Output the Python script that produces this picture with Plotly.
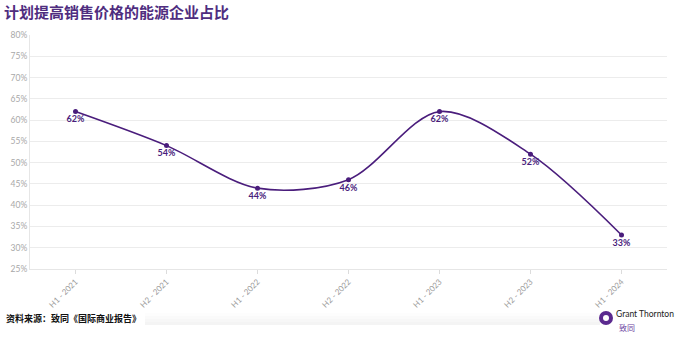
import plotly.graph_objects as go

categories = ["H1 - 2021", "H2 - 2021", "H1 - 2022", "H2 - 2022", "H1 - 2023", "H2 - 2023", "H1 - 2024"]
values = [62, 54, 44, 46, 62, 52, 33]
labels = [f"{v}%" for v in values]
tick_vals = list(range(25, 81, 5))
tick_text = [f"{v}%" for v in tick_vals]

PURPLE = "#4a1d7c"
W, H = 680, 337

fig = go.Figure()
fig.add_trace(go.Scatter(
    x=categories, y=values,
    mode="lines+markers+text",
    line=dict(color=PURPLE, width=1.6, shape="spline", smoothing=0.9),
    marker=dict(color=PURPLE, size=5),
    text=labels, textposition="bottom center",
    textfont=dict(family="Lato, Noto Sans", size=9, color=PURPLE, weight="bold"),
    cliponaxis=False, hoverinfo="skip",
))

fig.update_layout(
    width=W, height=H,
    margin=dict(l=30, r=13, t=35, b=68),
    paper_bgcolor="white", plot_bgcolor="white",
    showlegend=False,
    font=dict(family="Noto Sans CJK SC, Noto Sans", color="#333"),
    title=dict(text="<b>计划提高销售价格的能源企业占比</b>", x=0.006, xanchor="left",
               y=1 - 13 / H, yanchor="middle",
               font=dict(family="Noto Sans CJK SC", size=15, color="#4f2d7f")),
    xaxis=dict(
        type="category", range=[-0.5, 6.5],
        showgrid=False, showline=True, linecolor="#e6e6e6", linewidth=1,
        ticks="outside", ticklen=4, tickcolor="#dcdcdc",
        tickangle=-45, tickfont=dict(family="Lato, Noto Sans", size=8, color="#9a9a9a"),
        fixedrange=True,
    ),
    yaxis=dict(
        range=[25, 80], tickvals=tick_vals, ticktext=tick_text,
        showgrid=True, gridcolor="#ececec", gridwidth=1,
        showline=True, linecolor="#e6e6e6", linewidth=1,
        zeroline=False,
        tickfont=dict(family="Lato, Noto Sans", size=8.5, color="#a8a8a8"),
        ticks="", fixedrange=True,
    ),
)

# faint footer band
for i, c in enumerate(["#fdfdfd", "#fafafa", "#f7f7f7", "#f4f4f4"]):
    fig.add_shape(type="rect", xref="paper", yref="paper",
                  x0=(145 - 30) / 637, x1=(600 - 30) / 637,
                  y0=-(313 + i * 3 - 35) / 234 + 1, y1=-(316 + i * 3 - 35) / 234 + 1,
                  line=dict(width=0), fillcolor=c, layer="below")

# source note
fig.add_annotation(text="<b>资料来源：致同《国际商业报告》</b>", xref="paper", yref="paper",
                   x=-(30 - 4) / 637, y=1 - (318 - 35) / 234, xanchor="left", yanchor="middle",
                   showarrow=False, font=dict(family="Noto Sans CJK SC", size=9, color="#111"))

# logo
cx, cy = 606, 318
def px(x):
    return (x - 30) / 637
def py(y):
    return 1 - (y - 35) / 234
fig.add_shape(type="circle", xref="paper", yref="paper",
              x0=px(cx - 7), x1=px(cx + 7), y0=py(cy + 7), y1=py(cy - 7),
              fillcolor="#5b2a8f", line=dict(width=0))
fig.add_shape(type="circle", xref="paper", yref="paper",
              x0=px(cx - 3), x1=px(cx + 3), y0=py(cy + 3), y1=py(cy - 3),
              fillcolor="white", line=dict(width=0))
fig.add_annotation(text="Grant Thornton", xref="paper", yref="paper",
                   x=px(615), y=py(314), xanchor="left", yanchor="middle", showarrow=False,
                   borderpad=0,
                   font=dict(family="Lato, Noto Sans", size=8.5, color="#222"))
fig.add_annotation(text="致同", xref="paper", yref="paper",
                   x=px(618), y=py(327), xanchor="left", yanchor="middle", showarrow=False,
                   borderpad=0,
                   font=dict(family="Noto Sans CJK SC", size=8, color="#6b3fa0"))

fig.write_html("out.html")
